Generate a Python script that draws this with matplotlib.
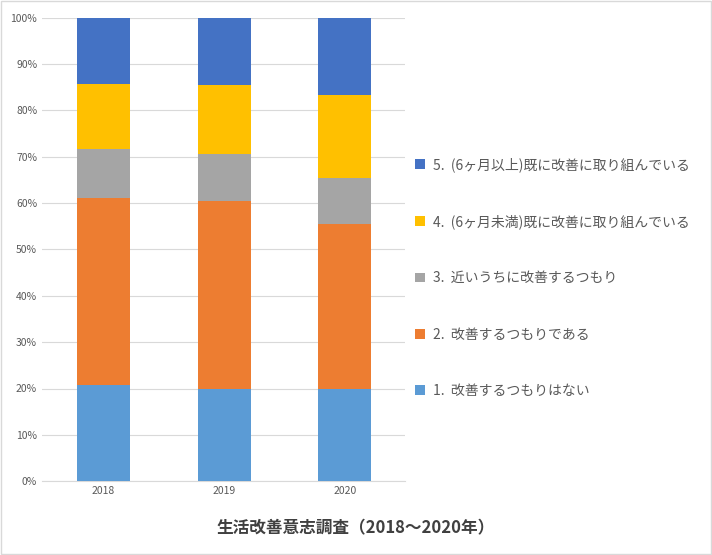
import matplotlib.pyplot as plt
from matplotlib.patches import Rectangle

plt.rcParams["font.family"] = ["Noto Sans CJK JP", "DejaVu Sans"]

years = ["2018", "2019", "2020"]
labels = ["1.  改善するつもりはない", "2.  改善するつもりである", "3.  近いうちに改善するつもり",
          "4.  (6ヶ月未満)既に改善に取り組んでいる", "5.  (6ヶ月以上)既に改善に取り組んでいる"]
s1 = [20.8, 20.0, 20.0]
s2 = [40.2, 40.5, 35.5]
s3 = [10.7, 10.0, 10.0]
s4 = [14.0, 15.0, 17.8]
s5 = [14.3, 14.5, 16.7]
colors = ["#5B9BD5", "#ED7D31", "#A5A5A5", "#FFC000", "#4472C4"]

fig = plt.figure(figsize=(7.12, 5.55), dpi=100)
ax = fig.add_axes([0.059, 0.133, 0.51, 0.835])
bottom = [0, 0, 0]
handles = []
for vals, c, lab in zip([s1, s2, s3, s4, s5], colors, labels):
    h = ax.bar(years, vals, bottom=bottom, width=0.44, color=c, label=lab, zorder=3)
    handles.append(h)
    bottom = [b + v for b, v in zip(bottom, vals)]

ax.set_ylim(0, 100)
ax.set_xlim(-0.51, 2.50)
ax.set_yticks(range(0, 101, 10))
ax.set_yticklabels([f"{v}%" for v in range(0, 101, 10)])
ax.tick_params(length=0, labelsize=7.5, colors="#595959")
ax.grid(axis="y", color="#D9D9D9", lw=0.8, zorder=0)
for s in ["top", "right", "left"]:
    ax.spines[s].set_visible(False)
ax.spines["bottom"].set_color("#D9D9D9")

fig.legend(handles[::-1], labels[::-1], loc="center left", bbox_to_anchor=(0.565, 0.50),
           frameon=False, fontsize=10, labelcolor="#595959", labelspacing=3.05,
           handlelength=0.7, handleheight=0.7, handletextpad=0.6)
fig.text(0.5, 0.048, "生活改善意志調査（2018～2020年）", ha="center", va="center",
         fontsize=12, fontweight="bold", color="#404040")
fig.patches.append(Rectangle((0.001, 0.001), 0.997, 0.997, transform=fig.transFigure,
                             fill=False, edgecolor="#D9D9D9", lw=1))
fig.savefig("out.png")
